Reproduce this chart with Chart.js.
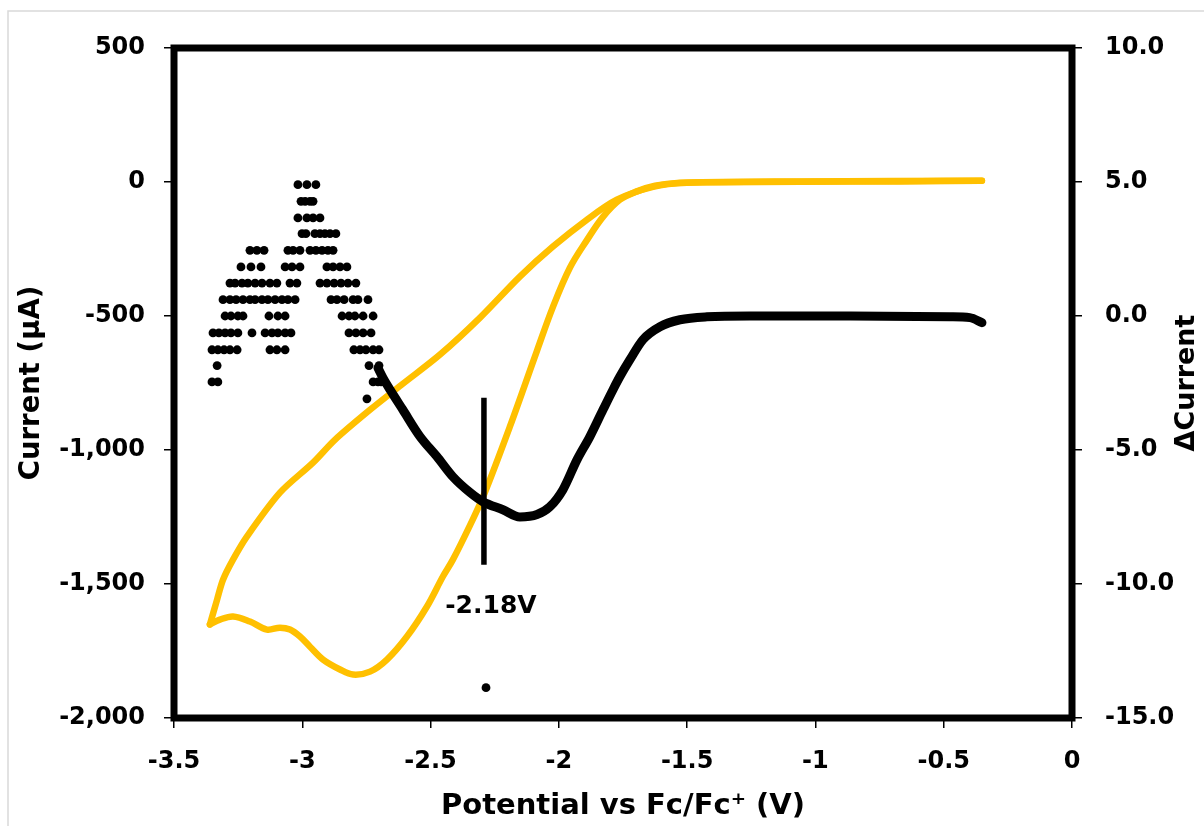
<!DOCTYPE html>
<html>
<head>
<meta charset="utf-8">
<script src="https://cdn.jsdelivr.net/npm/chart.js@4.4.1/dist/chart.umd.min.js"></script>
<style>
html,body{margin:0;padding:0;background:#fff;}
#wrap{width:1204px;height:826px;}
</style>
</head>
<body>
<div id="wrap"><canvas id="cvChart" width="1204" height="826"></canvas></div>
<script>
// CV, forward sweep (from -0.35 V towards -3.36 V), current in uA
const fwdPotential=[-0.351,-0.671,-1.060,-1.372,-1.528,-1.625,-1.696,-1.762,-1.828,-1.890,-1.957,-2.023,-2.085,-2.191,-2.292,-2.346,-2.413,-2.452,-2.514,-2.592,-2.670,-2.736,-2.802,-2.853,-2.919,-2.970,-3.009,-3.048,-3.087,-3.138,-3.204,-3.270,-3.321,-3.360];
const fwdCurrent=[5,2,1,-1,-3,-14,-35,-66,-130,-216,-320,-466,-629,-913,-1167,-1280,-1409,-1472,-1584,-1696,-1782,-1827,-1838,-1819,-1782,-1734,-1696,-1670,-1663,-1670,-1640,-1621,-1633,-1651];
// CV, return sweep
const revPotential=[-3.360,-3.332,-3.309,-3.270,-3.216,-3.087,-2.958,-2.873,-2.736,-2.608,-2.463,-2.307,-2.152,-2.023,-1.890,-1.774,-1.633,-1.501,-1.060,-0.351];
const revCurrent=[-1651,-1558,-1484,-1409,-1323,-1159,-1047,-962,-850,-753,-644,-506,-353,-241,-140,-66,-18,-3,2,5];

// derivative trace (right axis)
const diffPotential=[-2.705,-2.686,-2.658,-2.608,-2.541,-2.475,-2.413,-2.346,-2.296,-2.218,-2.152,-2.085,-2.035,-1.984,-1.929,-1.879,-1.828,-1.789,-1.762,-1.723,-1.672,-1.606,-1.528,-1.423,-1.255,-0.866,-0.476,-0.398,-0.351];
const diffValue=[-1.94,-2.30,-2.75,-3.50,-4.50,-5.25,-6.00,-6.59,-6.93,-7.23,-7.50,-7.41,-7.12,-6.48,-5.36,-4.50,-3.50,-2.75,-2.26,-1.63,-0.88,-0.40,-0.14,-0.03,0.00,0.00,-0.03,-0.06,-0.25];

// quantised derivative points at the negative end, one row per level
const stepLevels=[4.90,4.28,3.66,3.07,2.45,1.83,1.23,0.61,0.00,-0.63,-1.26,-1.85,-2.46,-3.09];
const stepPotentials=[
[-3.017,-2.982,-2.947],
[-3.005,-2.989,-2.970,-2.958],
[-3.017,-2.982,-2.958,-2.931],
[-3.001,-2.986,-2.951,-2.931,-2.912,-2.892,-2.869],
[-3.204,-3.177,-3.149,-3.056,-3.036,-3.009,-2.970,-2.947,-2.923,-2.900,-2.880],
[-3.239,-3.200,-3.161,-3.067,-3.040,-3.009,-2.904,-2.880,-2.853,-2.826],
[-3.282,-3.262,-3.235,-3.212,-3.184,-3.157,-3.126,-3.099,-3.048,-3.021,-2.931,-2.904,-2.876,-2.849,-2.822,-2.791],
[-3.309,-3.282,-3.258,-3.231,-3.204,-3.184,-3.157,-3.134,-3.106,-3.079,-3.056,-3.028,-2.888,-2.865,-2.837,-2.802,-2.783,-2.744],
[-3.301,-3.278,-3.251,-3.231,-3.130,-3.095,-3.067,-2.845,-2.818,-2.795,-2.763,-2.724],
[-3.348,-3.325,-3.301,-3.278,-3.251,-3.196,-3.145,-3.118,-3.095,-3.067,-3.044,-2.818,-2.791,-2.763,-2.732],
[-3.352,-3.329,-3.305,-3.282,-3.254,-3.126,-3.099,-3.067,-2.799,-2.775,-2.752,-2.724,-2.701],
[-3.332,-2.740,-2.701],
[-3.352,-3.329,-2.724,-2.705,-2.693],
[-2.748]
];
const strayPotential=[-2.284];
const strayValue=[-13.87];

// onset marker
const markerPotential=-2.292;
const markerCurrent=[-805,-1428];
const markerText="-2.18V";

const xTickLabels=["-3.5","-3","-2.5","-2","-1.5","-1","-0.5","0"];
const yTickLabels=["-2,000","-1,500","-1,000","-500","0","500"];
const y2TickLabels=["-15.0","-10.0","-5.0","0.0","5.0","10.0"];
const xTitle="Potential vs Fc/Fc\u207A (V)";
const yTitle="Current (\u00B5A)";
const y2Title="\u0394Current";

const FONT="'DejaVu Sans', sans-serif";
const GOLD="#FFC000";

function pairs(xs,ys){return xs.map((x,i)=>({x:x,y:ys[i]}));}

let stepPoints=[];
stepLevels.forEach((lv,i)=>{stepPotentials[i].forEach(p=>stepPoints.push({x:p,y:lv}));});
stepPoints=stepPoints.concat(pairs(strayPotential,strayValue));

const framePlugin={
id:"frame",
beforeDraw(chart){
const c=chart.ctx;
c.save();c.strokeStyle="#d9d9d9";c.lineWidth=1.5;c.strokeRect(8,11,1300,1000);c.restore();
},
afterDatasetsDraw(chart){
const {ctx,chartArea:a,scales}=chart;
ctx.save();
ctx.strokeStyle="#000";ctx.lineWidth=7;ctx.lineJoin="miter";
ctx.strokeRect(a.left,a.top,a.right-a.left,a.bottom-a.top);
ctx.fillStyle="#000";ctx.textAlign="center";ctx.textBaseline="middle";
ctx.font="bold 25px "+FONT;
const mx=scales.x.getPixelForValue(markerPotential);
const my=scales.y.getPixelForValue(markerCurrent[1]);
ctx.fillText(markerText,mx+7,my+42);
ctx.translate(scales.y2.right-17,(a.top+a.bottom)/2);
ctx.rotate(-Math.PI/2);
ctx.font="bold 27px "+FONT;
ctx.fillText(y2Title,0,0);
ctx.restore();
}
};

const tickFont={family:FONT,weight:"bold",size:24};
const gridOpts={display:true,drawOnChartArea:false,drawTicks:true,tickLength:10,color:"#000",lineWidth:1.5};

new Chart(document.getElementById("cvChart"),{
type:"scatter",
data:{datasets:[
{data:pairs(fwdPotential,fwdCurrent),yAxisID:"y",showLine:true,borderColor:GOLD,borderWidth:6.5,borderCapStyle:"round",borderJoinStyle:"round",tension:0.35,pointRadius:0,order:4},
{data:pairs(revPotential,revCurrent),yAxisID:"y",showLine:true,borderColor:GOLD,borderWidth:6.5,borderCapStyle:"round",borderJoinStyle:"round",tension:0.3,pointRadius:0,order:3},
{data:pairs(diffPotential,diffValue),yAxisID:"y2",showLine:true,borderColor:"#000",borderWidth:9,borderCapStyle:"round",borderJoinStyle:"round",cubicInterpolationMode:"monotone",pointRadius:0,order:2},
{data:stepPoints,yAxisID:"y2",pointRadius:4.4,pointBackgroundColor:"#000",pointBorderWidth:0,order:1},
{data:[{x:markerPotential,y:markerCurrent[0]},{x:markerPotential,y:markerCurrent[1]}],yAxisID:"y",showLine:true,borderColor:"#000",borderWidth:5.5,pointRadius:0,order:0}
]},
options:{
responsive:false,animation:false,devicePixelRatio:1,
layout:{padding:{top:48,left:0,right:0,bottom:0}},
plugins:{legend:{display:false},tooltip:{enabled:false}},
scales:{
x:{type:"linear",position:"bottom",min:-3.5,max:0,
ticks:{stepSize:0.5,color:"#000",font:tickFont,padding:19,maxRotation:0,autoSkip:false,callback:(v,i)=>xTickLabels[i]},
grid:gridOpts,border:{display:false},
title:{display:true,text:xTitle,color:"#000",font:{family:FONT,weight:"bold",size:29},padding:{top:0,bottom:2}},
afterFit:s=>{s.height=108;}},
y:{type:"linear",position:"left",min:-2000,max:500,
ticks:{stepSize:500,color:"#000",font:tickFont,padding:19,callback:(v,i)=>yTickLabels[i]},
grid:gridOpts,border:{display:false},
title:{display:true,text:yTitle,color:"#000",font:{family:FONT,weight:"bold",size:27.5},padding:{top:15,bottom:0}},
afterFit:s=>{s.width=174;}},
y2:{type:"linear",position:"right",min:-15,max:10,
ticks:{stepSize:5,color:"#000",font:tickFont,padding:23,callback:(v,i)=>y2TickLabels[i]},
grid:gridOpts,border:{display:false},
afterFit:s=>{s.width=132;}}
}
},
plugins:[framePlugin]
});
</script>
</body>
</html>
